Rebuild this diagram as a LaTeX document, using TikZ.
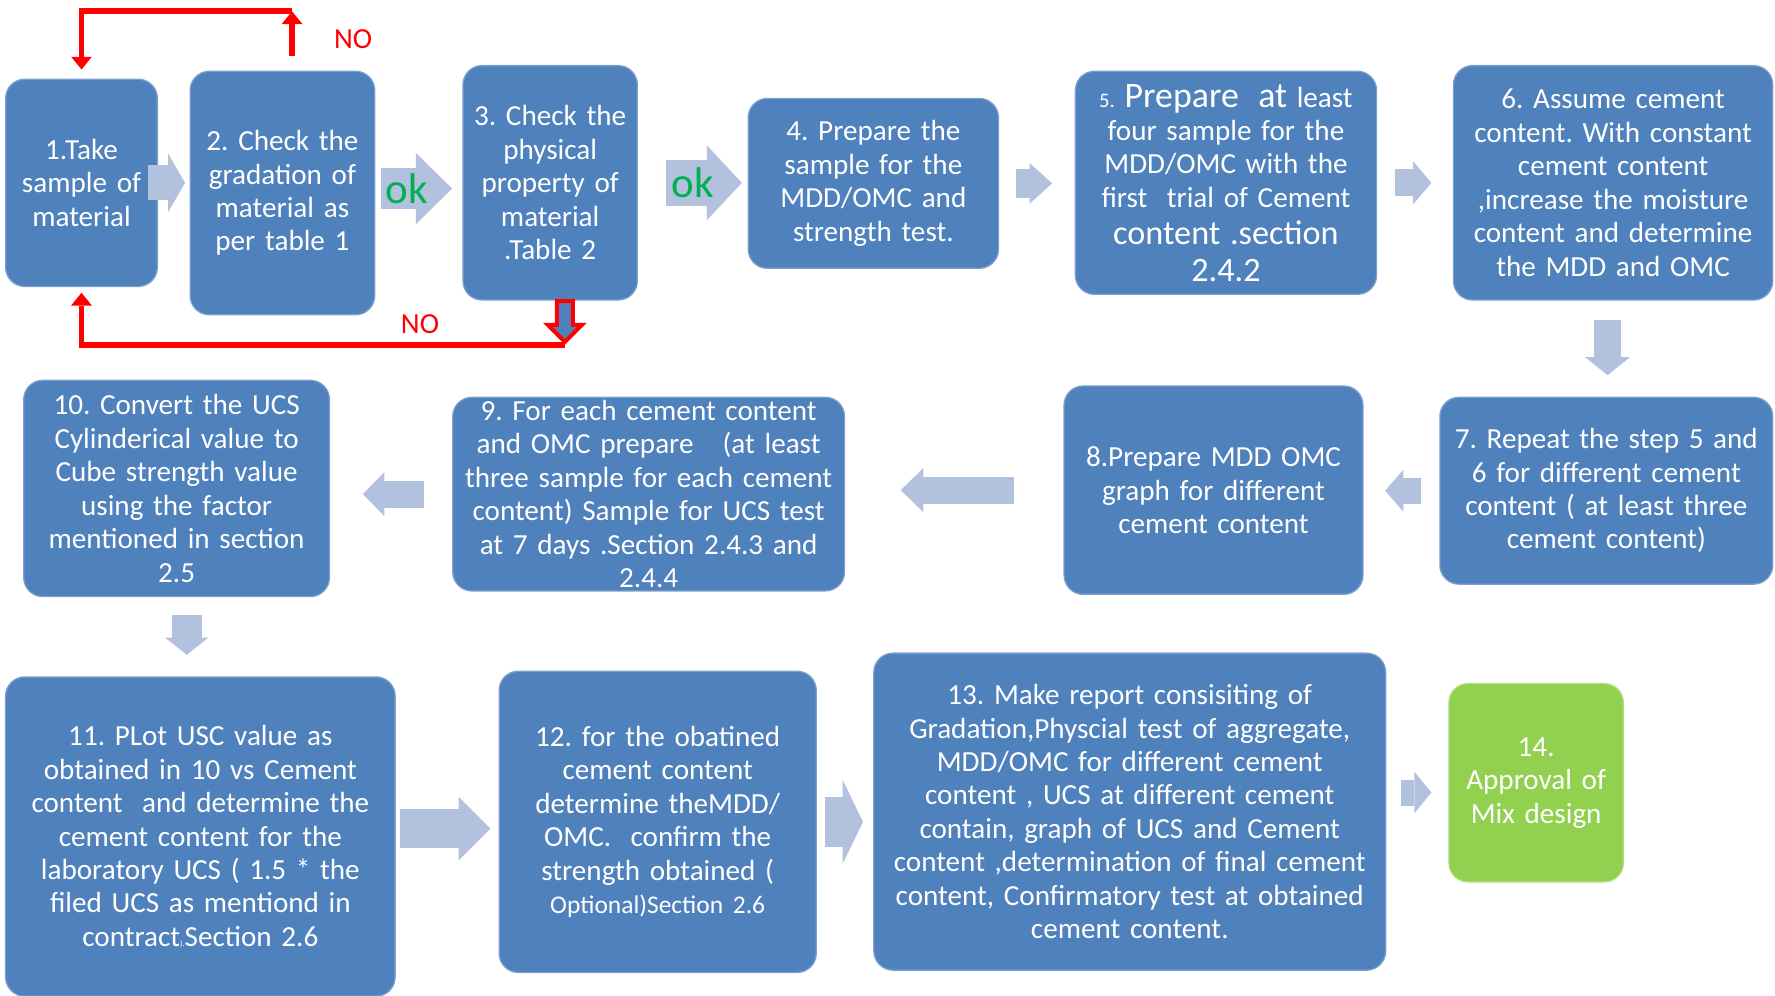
\documentclass[tikz,border=0pt]{standalone}
\usepackage{fontspec}
\setmainfont{Carlito}
\usetikzlibrary{arrows.meta}
\definecolor{boxblue}{RGB}{79,129,189}
\definecolor{boxgreen}{RGB}{146,208,80}
\definecolor{arrowblue}{RGB}{178,194,222}
\definecolor{okgreen}{RGB}{0,176,80}
\begin{document}
\frenchspacing
\begin{tikzpicture}[x=0.025cm,y=-0.025cm]
	\useasboundingbox (0,0) rectangle (1568,879);
	\begin{scope}[font=\fontsize{18.3}{21}\selectfont,
		blk/.style n args={3}{draw=arrowblue,line width=#1,-{Triangle[width=#2,length=#3,line width=0pt]}}]
		\tikzstyle{stepbox}=[draw=boxblue!75!white,line width=0.8pt,fill=boxblue,text=white,rounded corners=12pt,align=center,inner sep=0pt];
		\tikzstyle{okbox}=[stepbox,fill=boxgreen,draw=boxgreen!75!white];
		\tikzstyle{oklabel}=[text=okgreen,font=\fontsize{27}{27}\selectfont,inner sep=0pt];
		\tikzstyle{nolabel}=[text=red,inner sep=1pt];
		\tikzstyle{redarrow}=[draw=red,line width=3.6pt,-{Triangle[width=13pt,length=8pt,line width=0pt]}];
		% first row
		\path (72,161.5)   node [stepbox,text width=3.35cm,minimum height=4.575cm] (b1) {1.Take\\sample of\\material};
		\path (249.5,170.5) node [stepbox,text width=4.075cm,minimum height=5.375cm] (b2) {2. Check the\\gradation of\\material as\\per table 1};
		\path (486,161.5)  node [stepbox,text width=3.85cm,minimum height=5.175cm] (b3) {3. Check the\\physical\\property of\\material\\.Table 2};
		\path (771.5,162)  node [stepbox,text width=5.525cm,minimum height=3.75cm] (b4) {4. Prepare the\\sample for the\\MDD/OMC and\\strength test.};
		\path (1083,161.5) node [stepbox,text width=6.65cm,minimum height=4.925cm] (b5) {{\fontsize{13}{14}\selectfont 5.} {\fontsize{22.5}{21}\selectfont Prepare\ \ at} least\\four sample for the\\MDD/OMC with the\\first\ \ trial of Cement\\[2.5pt]{\fontsize{21.5}{24}\selectfont content .section}\\[2pt]{\fontsize{21.5}{24}\selectfont 2.4.2}};
		\path (1425,161.5) node [stepbox,text width=7.05cm,minimum height=5.175cm] (b6) {6. Assume cement\\content. With constant\\cement content\\,increase the moisture\\content and determine\\the MDD and OMC};
		% second row
		\path (1419,433.5) node [stepbox,text width=7.35cm,minimum height=4.125cm] (b7) {7. Repeat the step 5 and\\6 for different cement\\content ( at least three\\cement content)};
		\path (1072,433)   node [stepbox,text width=6.6cm,minimum height=4.6cm] (b8) {8.Prepare MDD OMC\\graph for different\\cement content};
		\path (573,436.5)  node [stepbox,text width=8.65cm,minimum height=4.275cm] (b9) {9. For each cement content\\and OMC prepare\ \ \ (at least\\three sample for each cement\\content) Sample for UCS test\\at 7 days .Section 2.4.3 and\\2.4.4};
		\path (156,431.5)  node [stepbox,text width=6.75cm,minimum height=4.775cm] (b10) {10. Convert the UCS\\Cylinderical value to\\Cube strength value\\using the factor\\mentioned in section\\2.5};
		% third row
		\path (177,739)    node [stepbox,text width=8.6cm,minimum height=7.05cm] (b11) {11. PLot USC value as\\obtained in 10 vs Cement\\content\ \ and determine the\\cement content for the\\laboratory UCS ( 1.5 * the\\filed UCS as mentiond in\\contract{\tiny ).}Section 2.6};
		\path (581,726)    node [stepbox,text width=7cm,minimum height=6.65cm] (b12) {12. for the obatined\\cement content\\determine theMDD/\\OMC.\ \ confirm the\\strength obtained (\\{\fontsize{16}{18}\selectfont Optional)Section 2.6}};
		\path (998,717)    node [stepbox,text width=11.3cm,minimum height=7cm] (b13) {13. Make report consisiting of\\Gradation,Physcial test of aggregate,\\MDD/OMC for different cement\\content , UCS at different cement\\contain, graph of UCS and Cement\\content ,determination of final cement\\content, Confirmatory test at obtained\\cement content.};
		\path (1357,691.5) node [okbox,text width=3.85cm,minimum height=4.375cm] (b14) {14.\\Approval of\\Mix design};

		% block arrows
		\draw[blk={22pt}{37pt}{10.7pt},shorten <=-6.4pt,shorten >=2.8pt] (b1.east) -- (b1.east -| b2.west);
		\draw[blk={26.3pt}{44.8pt}{22.8pt},shorten <=3.6pt,shorten >=6.4pt] ([yshift=2.8pt]b2.east) -- ([yshift=2.8pt]b2.east -| b3.west) node [oklabel,pos=0.36] (ok1) {ok};
		\draw[blk={28.5pt}{47pt}{22pt},shorten <=17.8pt,shorten >=3.6pt] (b3.east) -- (b3.east -| b4.west) node [oklabel,pos=0.5] (ok2) {ok};
		\draw[blk={17.8pt}{25.6pt}{14.2pt},shorten <=10.7pt,shorten >=14.2pt] (b4.east) -- (b4.east -| b5.west);
		\draw[blk={17pt}{27pt}{11.4pt},shorten <=11.4pt,shorten >=13.5pt] (b5.east) -- (b5.east -| b6.west);
		\draw[blk={17pt}{28.5pt}{11.4pt},shorten <=12.1pt,shorten >=13.5pt] ([xshift=-3.5pt]b6.south) -- ([xshift=-3.5pt]b6.south |- b7.north);
		\draw[blk={16.4pt}{26.3pt}{11.4pt},shorten <=11.4pt,shorten >=13.5pt] (b7.west) -- (b7.west -| b8.east);
		\draw[blk={17pt}{27.7pt}{14.2pt},shorten <=31.3pt,shorten >=34.9pt] (b8.west) -- (b8.west -| b9.east);
		\draw[blk={17pt}{27.7pt}{13.5pt},shorten <=17.8pt,shorten >=20.6pt] (b9.west) -- (b9.west -| b10.east);
		\draw[blk={18.5pt}{27pt}{10.7pt},shorten <=11.4pt,shorten >=13.5pt] ([xshift=6.4pt]b10.south) -- ([xshift=6.4pt]b10.south |- b11.north);
		\draw[blk={24.2pt}{40pt}{20pt},shorten <=2.8pt,shorten >=5pt] ([yshift=5pt]b11.east) -- ([yshift=5pt]b11.east -| b12.west);
		\draw[blk={31.3pt}{52.6pt}{12.8pt},shorten <=5pt,shorten >=6.4pt] (b12.east) -- (b12.east -| b13.west);
		\draw[blk={16.4pt}{26.3pt}{10.7pt},shorten <=9.2pt,shorten >=10.7pt] ([yshift=12pt]b13.east) -- ([yshift=12pt]b13.east -| b14.west);

		% NO loops
		\coordinate (noup) at (258,10);
		\draw[redarrow,shorten <=9.2pt] (b2.north -| noup) -- (noup);
		\draw[redarrow,shorten >=5.7pt] (noup) -| (b1.north);
		\path (312,35) node [nolabel] (no1) {NO};
		\draw[red,line width=2.5pt,fill=boxblue,line join=miter] (492,266) -- (506,266) -- (506,287) -- (514,287) -- (499,302) -- (484,287) -- (492,287) -- cycle;
		\coordinate (nobot) at (499,305);
		\draw[redarrow,shorten >=3.6pt] (nobot) -| (b1.south);
		\path (371,286) node [nolabel] (no2) {NO};
	\end{scope}
\end{tikzpicture}
\end{document}
